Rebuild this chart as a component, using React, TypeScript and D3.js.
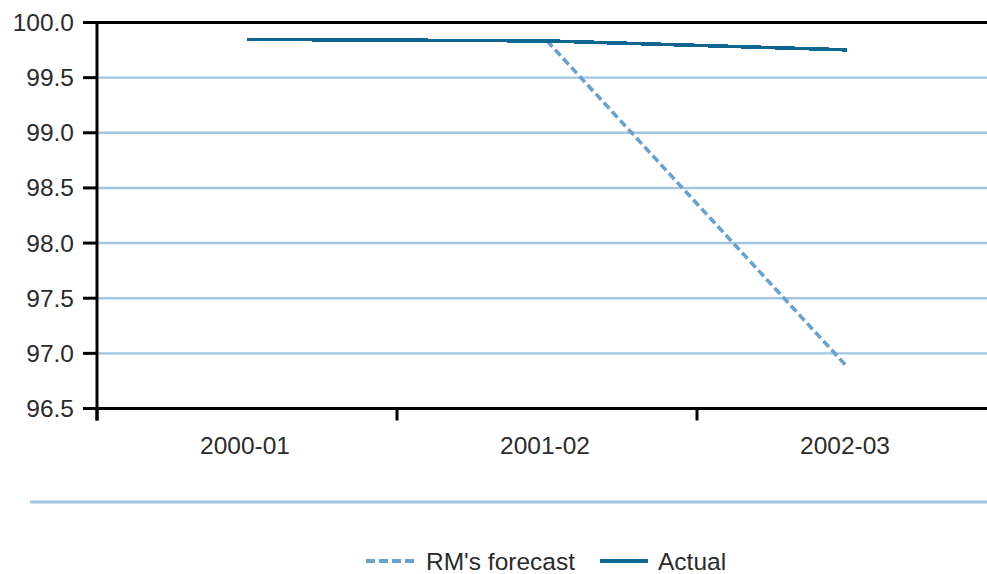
import React from "react";
import * as d3 from "d3";

const categories = ["2000-01", "2001-02", "2002-03"];
const actualValues = [99.847, 99.833, 99.752];
const forecastCategories = ["2001-02", "2002-03"];
const forecastValues = [99.833, 96.88];
const yTicks = [96.5, 97.0, 97.5, 98.0, 98.5, 99.0, 99.5, 100.0];

const W = 987;
const H = 574;
const FONT = "'Liberation Sans', Arial, sans-serif";
const GRID = "#a3c5df";
const ACTUAL = "#0f6791";
const FORECAST = "#6aa2ce";
const TEXT = "#2b2b2b";
const FS = 24.5;

export default function App() {
  const x = d3.scaleBand<string>().domain(categories).range([97, 997]).padding(0);
  const y = d3.scaleLinear().domain([96.5, 100]).range([408.5, 22.5]);
  const cx = (c: string) => (x(c) as number) + x.bandwidth() / 2;

  const line = d3
    .line<[string, number]>()
    .x((d) => cx(d[0]))
    .y((d) => y(d[1]));

  const actualPath = line(categories.map((c, i) => [c, actualValues[i]] as [string, number])) || "";
  const forecastPath = line(forecastCategories.map((c, i) => [c, forecastValues[i]] as [string, number])) || "";

  const xTickPositions = [...categories.map((c) => x(c) as number), 997];

  return (
    <svg
      width={W}
      height={H}
      style={{ position: "absolute", left: 0, top: 0, background: "#fff" }}
    >
      <rect width={W} height={H} fill="#fff" />
      {/* gridlines */}
      {yTicks
        .filter((t) => t !== 96.5 && t !== 100)
        .map((t) => (
          <line key={t} x1={97} x2={W} y1={y(t)} y2={y(t)} stroke={GRID} strokeWidth={2.4} />
        ))}
      {/* forecast */}
      <path d={forecastPath} fill="none" stroke={FORECAST} strokeWidth={3.6} strokeDasharray="8,4" />
      {/* actual */}
      <path d={actualPath} fill="none" stroke={ACTUAL} strokeWidth={3.6} shapeRendering="crispEdges" />
      {/* top border */}
      <line x1={83} x2={W} y1={y(100)} y2={y(100)} stroke="#000" strokeWidth={3} />
      {/* x axis */}
      <line x1={83} x2={W} y1={y(96.5)} y2={y(96.5)} stroke="#000" strokeWidth={3} />
      {/* y axis */}
      <line x1={97} x2={97} y1={y(100) - 1.5} y2={y(96.5) + 12} stroke="#000" strokeWidth={3} />
      {yTicks.map((t) => (
        <g key={t}>
          <line x1={83} x2={97} y1={y(t)} y2={y(t)} stroke="#000" strokeWidth={3} />
          <text
            x={74}
            y={y(t)}
            textAnchor="end"
            dominantBaseline="central"
            fontFamily={FONT}
            fontSize={FS}
            fill={TEXT}
          >
            {t.toFixed(1)}
          </text>
        </g>
      ))}
      {xTickPositions.map((p, i) => (
        <line key={i} x1={p} x2={p} y1={y(96.5)} y2={y(96.5) + 12} stroke="#000" strokeWidth={3} />
      ))}
      {categories.map((c) => (
        <text
          key={c}
          x={cx(c) - 2}
          y={454}
          textAnchor="middle"
          fontFamily={FONT}
          fontSize={FS}
          fill={TEXT}
        >
          {c}
        </text>
      ))}
      {/* separator */}
      <line x1={30} x2={W} y1={502} y2={502} stroke={GRID} strokeWidth={3} />
      {/* legend */}
      <line x1={366} x2={414} y1={561} y2={561} stroke={FORECAST} strokeWidth={4} strokeDasharray="9,4" />
      <text x={426} y={570} fontFamily={FONT} fontSize={FS} fill={TEXT}>
        RM's forecast
      </text>
      <line x1={600} x2={648} y1={561} y2={561} stroke={ACTUAL} strokeWidth={4} />
      <text x={658} y={570} fontFamily={FONT} fontSize={FS} fill={TEXT}>
        Actual
      </text>
    </svg>
  );
}
